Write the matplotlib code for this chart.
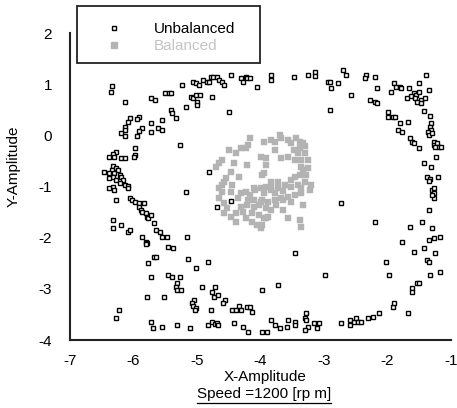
import matplotlib
matplotlib.use("Agg")
import matplotlib.pyplot as plt
from matplotlib.lines import Line2D
from matplotlib.patches import Rectangle

plt.rcParams['font.family'] = ['Liberation Sans', 'DejaVu Sans']
plt.rcParams['axes.unicode_minus'] = False

# ---- data ----
unbal_x = [-6.34, -6.36, -6.13, -5.72, -5.66, -5.50, -6.05, -6.08, -5.92, -5.94, -5.73, -5.55,
           -6.13, -6.14, -5.86, -5.91, -5.73, -5.61, -5.55, -6.20, -6.14, -5.94, -5.97, -5.98,
           -6.00, -6.27, -6.33, -6.38, -6.31, -6.19, -6.14, -6.47, -6.33, -6.28, -6.34, -6.25,
           -6.39, -6.30, -6.22, -6.33, -6.19, -6.38, -6.27, -6.17, -6.22, -6.14, -6.09, -6.33,
           -6.38, -6.08,
           -6.30, -6.28, -6.05, -6.03, -5.97, -5.91, -5.84, -5.91, -5.88, -5.86, -5.80, -5.78,
           -5.77, -5.72, -6.33, -6.33, -6.20, -6.09, -6.05, -5.67, -5.86, -5.80, -5.78, -5.81,
           -5.64, -5.58, -5.55, -5.47, -5.67, -5.64, -5.77, -5.73, -5.45, -5.45, -5.78, -5.52,
           -6.23, -6.28, -5.73, -5.70, -5.55,
           -5.17, -4.69, -4.47, -5.16, -5.38, -5.14, -5.02, -4.83, -5.39, -5.27, -5.31, -5.33,
           -5.31, -5.25, -4.92, -4.72, -4.77, -4.73, -4.67, -5.05, -5.08, -5.06, -5.02, -5.03,
           -4.56, -4.59, -4.78, -4.45, -4.38, -4.34, -4.31, -4.22, -4.16, -4.14, -3.97, -5.31,
           -5.11, -4.83, -4.77, -4.72, -4.69, -4.67, -4.41, -4.27, -4.19, -3.97,
           -2.73, -3.45, -2.98, -3.72, -3.83, -3.77, -3.69, -3.59, -3.56, -3.45, -3.45, -3.89,
           -3.28, -3.30, -3.28, -3.25, -3.30, -3.16, -3.08, -3.11, -2.73, -2.59, -2.59, -2.53,
           -2.50,
           -2.47, -2.42, -2.31, -2.23, -2.13, -1.92, -1.89, -1.67, -1.61, -1.61, -1.53, -1.50,
           -2.02, -1.97, -2.19, -1.77, -1.64, -1.45, -1.58, -1.42, -1.34, -1.30, -1.34, -1.27,
           -1.17, -1.38, -1.34, -1.25, -1.33, -1.17, -1.30, -1.27, -1.27, -1.30,
           -2.34, -2.36, -2.20, -2.17, -1.89, -1.86, -1.81, -1.78, -1.95, -1.66, -1.50, -1.39,
           -1.34, -1.58, -1.55, -1.63, -1.69, -1.56, -1.50, -1.48, -1.53, -1.48, -1.41, -2.27,
           -2.20, -2.16, -1.42, -1.33, -2.00, -2.00, -1.91, -1.88, -1.81, -1.67, -1.84, -1.77,
           -1.31, -1.33, -1.31, -1.36, -1.34, -1.30, -1.64, -1.61, -1.58, -1.50, -1.27, -1.27,
           -1.22, -1.19, -1.16, -1.25, -1.23, -1.42, -1.31, -1.38, -1.33, -1.34, -1.20, -1.27,
           -3.84, -3.83, -3.48, -3.25, -3.14, -3.14, -2.94, -2.91, -2.89, -2.78, -2.70, -2.66,
           -2.58, -2.91,
           -5.23, -5.06, -5.02, -4.97, -4.91, -4.84, -4.81, -4.78, -4.75, -4.69, -4.66, -4.61,
           -4.58, -4.47, -4.30, -4.27, -4.23, -4.22, -4.16, -4.06, -5.44, -5.41, -5.09, -5.06,
           -5.02, -4.95, -5.00, -5.00, -4.77, -5.17, -5.41, -5.39, -5.33, -4.50, -5.27, -4.81]
unbal_y = [0.96, 0.85, 0.65, 0.73, 0.69, 0.83, 0.34, 0.26, 0.36, 0.32, 0.24, 0.30,
           0.16, 0.11, 0.14, 0.09, 0.07, 0.14, 0.11, 0.05, -0.01, -0.01, -0.25, -0.38,
           -0.42, -0.32, -0.36, -0.42, -0.42, -0.44, -0.44, -0.71, -0.60, -0.64, -0.68, -0.68,
           -0.73, -0.73, -0.77, -0.81, -0.81, -0.83, -0.87, -0.87, -0.93, -0.97, -0.99, -1.01,
           -1.03, -1.03,
           -1.07, -1.26, -1.22, -1.26, -1.30, -1.32, -1.32, -1.40, -1.46, -1.50, -1.52, -1.60,
           -1.62, -1.56, -1.65, -1.81, -1.75, -1.89, -1.85, -1.71, -1.98, -2.08, -2.10, -2.12,
           -1.85, -1.89, -1.98, -1.98, -2.37, -2.37, -2.49, -2.76, -2.18, -2.73, -3.16, -3.16,
           -3.41, -3.57, -3.64, -3.76, -3.74,
           -1.11, -1.40, -1.28, -1.98, -2.20, -2.41, -2.60, -2.48, -2.76, -2.76, -2.88, -2.96,
           -3.02, -3.02, -2.96, -2.96, -3.07, -3.16, -3.12, -3.21, -3.27, -3.33, -3.37, -3.41,
           -3.21, -3.27, -3.41, -3.41, -3.41, -3.33, -3.41, -3.35, -3.35, -3.45, -3.02, -3.70,
           -3.76, -3.70, -3.64, -3.68, -3.66, -3.70, -3.66, -3.74, -3.84, -3.84,
           -1.32, -2.30, -2.73, -2.92, -3.61, -3.70, -3.76, -3.74, -3.61, -3.64, -3.70, -3.84,
           -3.47, -3.57, -3.61, -3.74, -3.80, -3.66, -3.66, -3.76, -3.66, -3.61, -3.70, -3.64,
           -3.57,
           -3.64, -3.64, -3.57, -3.55, -3.47, -3.35, -3.27, -3.47, -2.98, -3.06, -2.88, -2.88,
           -2.47, -2.73, -1.69, -2.08, -1.79, -1.69, -2.28, -2.20, -1.46, -1.81, -2.04, -2.00,
           -1.98, -2.43, -2.47, -2.30, -2.73, -2.67, -1.07, -1.13, -1.22, -1.17,
           1.18, 1.12, 1.14, 0.93, 1.02, 0.95, 0.95, 0.93, 0.85, 0.93, 1.02, 1.18,
           0.89, 0.83, 0.79, 0.77, 0.73, 0.73, 0.85, 0.69, 0.65, 0.63, 0.73, 0.69,
           0.65, 0.63, 0.48, 0.38, 0.46, 0.36, 0.36, 0.36, 0.24, 0.26, 0.11, 0.07,
           0.24, 0.16, 0.11, 0.07, 0.01, 0.05, -0.05, -0.13, -0.15, -0.25, -0.13, -0.19,
           -0.15, -0.23, -0.23, -0.23, -0.42, -0.54, -0.62, -0.81, -0.85, -0.89, -0.81, -1.03,
           1.18, 1.08, 1.14, 1.18, 1.24, 1.16, 1.04, 1.04, 0.93, 1.02, 1.28, 1.18,
           0.79, 0.50,
           0.98, 1.04, 1.02, 0.98, 1.08, 1.04, 1.04, 1.14, 1.14, 1.14, 1.08, 1.04,
           0.98, 1.18, 1.12, 1.04, 1.14, 1.12, 1.12, 0.95, 0.83, 0.83, 0.75, 0.73,
           0.79, 0.79, 0.65, 0.59, 0.75, 0.55, 0.50, 0.44, 0.34, 0.46, -0.19, -0.71]

bal_x = [-4.16, -3.95, -4.23, -4.30, -4.19, -4.39, -4.00, -4.61, -4.66, -4.70, -4.22, -4.34,
         -4.55, -4.58, -4.61, -4.66, -3.95,
         -3.83, -3.77, -3.69, -3.67, -3.56, -3.52, -3.44, -3.38, -3.33, -3.30, -3.38, -3.48,
         -3.41, -3.30, -3.36, -3.25, -3.91, -3.77, -3.67, -3.56, -3.45, -3.92, -3.36, -3.33,
         -3.28, -3.38, -3.45, -3.52, -3.98, -3.83, -3.72, -3.61, -3.52, -3.41, -3.30, -3.36,
         -3.72, -3.83, -3.25,
         -4.61, -4.66, -4.58, -4.53, -4.58, -4.47, -4.38, -4.30, -4.23, -4.16, -4.08, -4.00,
         -4.11, -4.00, -4.22, -4.31, -4.27, -4.14, -4.03, -4.23, -4.14, -4.06, -4.00, -3.95,
         -4.38, -4.47,
         -3.92, -3.83, -3.22, -3.36, -3.45, -3.56, -3.67, -3.77, -3.88, -3.98, -4.03, -3.92,
         -3.83, -3.92, -3.98, -3.88, -3.75, -3.64, -3.52, -3.33, -3.56, -3.38, -3.36, -3.20,
         -3.77,
         -4.11, -3.95, -3.64, -3.64, -4.11, -4.19, -4.36, -4.45, -4.47, -4.41, -4.50]
bal_y = [-0.05, -0.13, -0.25, -0.25, -0.19, -0.34, -0.42, -0.48, -0.54, -0.62, -0.58, -0.81,
         -0.83, -0.91, -0.97, -1.03, -0.73,
         -0.09, -0.13, 0.01, -0.05, -0.09, -0.15, -0.05, -0.13, -0.15, -0.21, -0.25, -0.28,
         -0.34, -0.34, -0.48, -0.48, -0.44, -0.28, -0.44, -0.42, -0.48, -0.58, -0.62, -0.68,
         -0.77, -0.77, -0.81, -0.87, -0.77, -0.91, -0.91, -0.97, -1.01, -0.97, -0.91, -1.03,
         -1.03, -1.03, -0.64,
         -1.11, -1.22, -1.32, -1.42, -1.52, -1.60, -1.52, -1.13, -1.11, -1.17, -1.07, -1.03,
         -1.26, -1.30, -1.36, -1.40, -1.50, -1.52, -1.56, -1.62, -1.70, -1.75, -1.81, -1.62,
         -1.70, -1.11,
         -1.01, -1.07, -1.07, -1.13, -1.17, -1.20, -1.22, -1.26, -1.30, -1.26, -1.36, -1.42,
         -1.46, -1.62, -1.75, -1.60, -1.36, -1.09, -1.30, -1.36, -1.62, -1.66, -1.79, -0.97,
         -1.13,
         -1.03, -1.13, -1.26, -1.46, -1.40, -1.26, -1.22, -0.97, -0.71, -0.54, -0.28]

x_ticks = [-7, -6, -5, -4, -3, -2, -1]
y_ticks = [-4, -3, -2, -1, 0, 1, 2]
series_labels = ["Unbalanced", "Balanced"]
x_title = "X-Amplitude"
y_title = "Y-Amplitude"
subtitle = "Speed =1200 [rp m]"

# ---- figure ----
FS = 11
fig = plt.figure(figsize=(4.57, 4.08), dpi=100)
W, H = 457, 408
ax = fig.add_axes([70 / W, 1 - 340 / H, 381 / W, 307 / H])

gray = "#b3b3b3"
ax.plot(bal_x, bal_y, linestyle="none", marker="s", markersize=4.2,
        markerfacecolor=gray, markeredgecolor=gray, markeredgewidth=0.3)
ax.plot(unbal_x, unbal_y, linestyle="none", marker="s", markersize=3.4,
        markerfacecolor="white", markeredgecolor="black", markeredgewidth=1.0)

ax.set_xlim(-7, -1)
ax.set_ylim(-4, 2)
ax.set_xticks(x_ticks)
ax.set_yticks(y_ticks)
ax.set_xticklabels([str(v) for v in x_ticks])
ax.set_yticklabels([str(v) for v in y_ticks])
ax.tick_params(length=0, labelsize=FS, colors="black")
ax.tick_params(axis="y", pad=13)
ax.tick_params(axis="x", pad=10)
for s in ["top", "right"]:
    ax.spines[s].set_visible(False)
for s in ["left", "bottom"]:
    ax.spines[s].set_linewidth(1.5)
    ax.spines[s].set_color("#222222")

ax.set_xlabel(x_title, fontsize=FS, labelpad=0)
ax.xaxis.set_label_coords((265 - 70) / 381, -(370 - 340) / 307)
ax.set_ylabel(y_title, fontsize=FS)
ax.yaxis.set_label_coords(-(70 - 21) / 381, (340 - 166) / 307)

# subtitle, underlined
t = fig.text(264 / W, 1 - 394 / H, subtitle, ha="center", va="center", fontsize=FS)
fig.canvas.draw()
bb = t.get_window_extent(renderer=fig.canvas.get_renderer())
fig.add_artist(Line2D([bb.x0 / W, bb.x1 / W], [(408 - 403) / H, (408 - 403) / H],
                      transform=fig.transFigure, color="black", linewidth=0.9))

# legend box
fig.add_artist(Rectangle((77 / W, 1 - 63 / H), (260 - 77) / W, (63 - 6) / H,
                         transform=fig.transFigure, fill=False, edgecolor="#222222",
                         linewidth=1.3))
handles = [Line2D([], [], linestyle="none", marker="s", markersize=3.4,
                  markerfacecolor="white", markeredgecolor="black", markeredgewidth=1.0),
           Line2D([], [], linestyle="none", marker="s", markersize=4.0,
                  markerfacecolor=gray, markeredgecolor=gray)]
leg = fig.legend(handles, series_labels, loc="upper left",
                 bbox_to_anchor=(77 / W, 1 - 22 / H), frameon=False, fontsize=FS,
                 handlelength=4.9, handletextpad=0.15, labelspacing=0.2,
                 borderpad=0.0, borderaxespad=0.0)
leg.get_texts()[1].set_color("#c4c4c4")

fig.savefig("out.png", dpi=100)
